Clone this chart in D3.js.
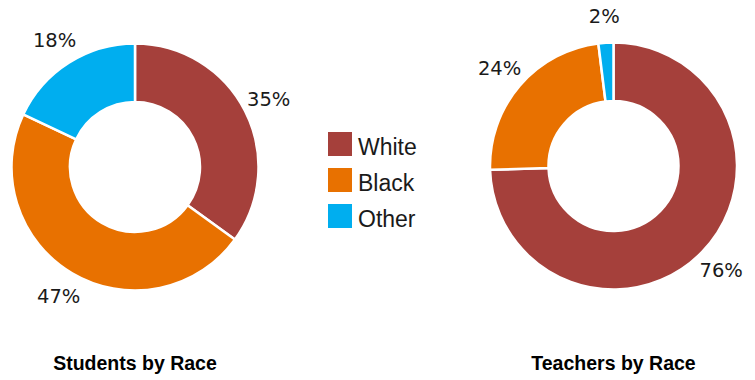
<!DOCTYPE html>
<meta charset="utf-8">
<style>
body { margin: 0; background: #fff; }
.pct { font: 19.5px "DejaVu Sans", sans-serif; fill: #1a1a1a; }
.legend text { font: 23px "Liberation Sans", Arial, sans-serif; fill: #1a1a1a; }
.title { font: bold 19.5px "Liberation Sans", Arial, sans-serif; fill: #000; }
</style>
<svg width="755" height="380"></svg>
<script src="https://d3js.org/d3.v7.min.js"></script>
<script>

var races = ["White", "Black", "Other"];
var colors = ["#A5403B", "#E87100", "#00AEEF"];

var studentValues = [35, 47, 18];
var teacherValues = [76, 24, 2];

var chartTitles = ["Students by Race", "Teachers by Race"];

var svg = d3.select("svg");

var color = d3.scaleOrdinal().domain(races).range(colors);

var outerR = 123.5, innerR = 65, labelR = 150;

var arc = d3.arc().innerRadius(innerR).outerRadius(outerR);
var labelArc = d3.arc().innerRadius(labelR).outerRadius(labelR);

var pie = d3.pie().sort(null).value(function(d) { return d.value; });

function donut(values, cx, cy, title) {
  var data = races.map(function(r, i) { return {race: r, value: values[i]}; });
  var g = svg.append("g").attr("transform", "translate(" + cx + "," + cy + ")");

  g.selectAll("path")
    .data(pie(data))
    .enter().append("path")
      .attr("d", arc)
      .attr("fill", function(d) { return color(d.data.race); })
      .attr("stroke", "#fff")
      .attr("stroke-width", 2.5);

  g.selectAll("text.pct")
    .data(pie(data))
    .enter().append("text")
      .attr("class", "pct")
      .attr("transform", function(d) { return "translate(" + labelArc.centroid(d) + ")"; })
      .attr("text-anchor", "middle")
      .attr("dy", "0.35em")
      .text(function(d) { return d.data.value + "%"; });

  svg.append("text")
    .attr("class", "title")
    .attr("x", cx)
    .attr("y", 370)
    .attr("text-anchor", "middle")
    .text(title);
}

donut(studentValues, 135, 167, chartTitles[0]);
donut(teacherValues, 613.5, 166, chartTitles[1]);

// legend
var legend = svg.append("g").attr("class", "legend");
var row = legend.selectAll("g")
  .data(races)
  .enter().append("g")
    .attr("transform", function(d, i) { return "translate(328," + (132 + i * 36) + ")"; });

row.append("rect")
  .attr("width", 24)
  .attr("height", 24)
  .attr("fill", function(d) { return color(d); });

row.append("text")
  .attr("x", 30)
  .attr("y", 23)
  .text(function(d) { return d; });

</script>
